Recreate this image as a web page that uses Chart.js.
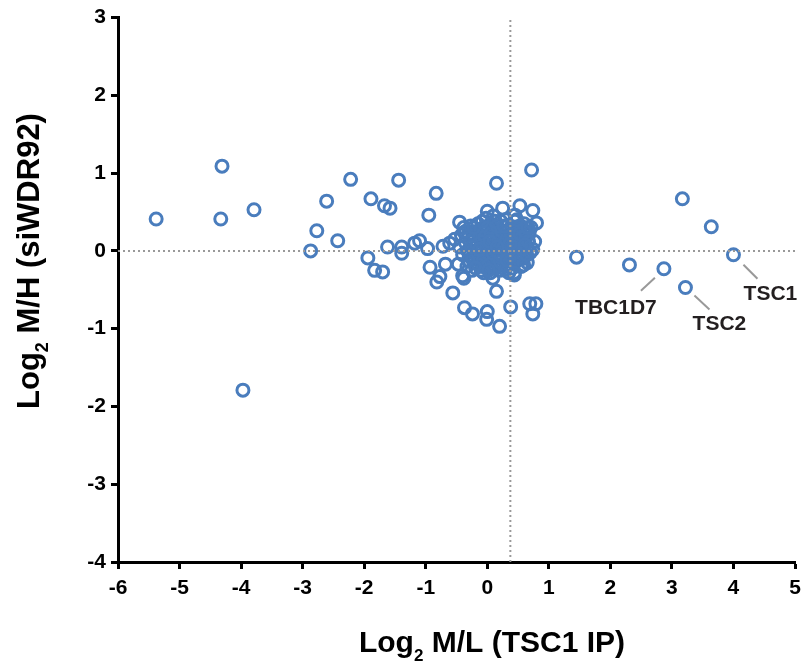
<!DOCTYPE html>
<html>
<head>
<meta charset="utf-8">
<script src="https://cdn.jsdelivr.net/npm/chart.js@4.4.1/dist/chart.umd.min.js"></script>
<style>
html,body{margin:0;padding:0;background:#fff;}
#wrap{width:804px;height:663px;}
</style>
</head>
<body>
<div id="wrap"><canvas id="c" width="804" height="663"></canvas></div>
<script>
// ---- data ----
const xValues = [
 -5.38,-4.31,-4.33,-3.79,-3.97,-2.61,-2.22,-2.77,-2.87,-2.43,
 -1.89,-1.67,-1.58,-1.44,-1.94,-1.83,-1.70,-1.62,-1.39,-1.39,
 -1.18,-1.10,-0.97,-0.93,-0.77,-0.82,-0.72,-0.61,-0.53,-0.68,
 -0.95,-0.83,-0.56,-0.47,-0.40,-0.38,-0.37,-0.24,0.00,-0.01,
 0.20,0.15,0.09,0.44,0.38,0.69,0.79,0.74,0.56,0.74,
 0.77,0.15,0.72,-0.45,0.00,0.25,0.53,0.74,0.80,0.45,
 1.45,2.31,2.87,3.17,3.64,4.00,3.22,
 -0.35,-0.30,-0.28,-0.25,-0.22,-0.20,-0.18,-0.15,-0.12,-0.10,
 -0.08,-0.06,-0.05,-0.03,0.00,0.02,0.04,0.05,0.07,0.08,
 0.10,0.12,0.13,0.15,0.17,0.18,0.20,0.22,0.24,0.25,
 0.28,0.30,0.32,0.33,0.35,0.38,0.40,0.42,0.45,0.47,
 0.50,0.52,0.55,0.58,0.60,0.62,0.65,0.68,0.70,-0.40,
 -0.42,-0.33,-0.27,-0.15,-0.02,0.10,0.30,0.45,0.60,0.35,
 0.20,0.05,-0.10,-0.25,0.55,0.65,-0.38,-0.45,0.00,0.12,
 -0.18,0.28,0.40,-0.05,0.18,0.08,0.48,
 -0.32,-0.28,-0.24,-0.21,-0.17,-0.14,-0.11,-0.09,-0.07,-0.04,
 -0.02,0.01,0.03,0.06,0.09,0.11,0.14,0.16,0.19,0.21,
 0.23,0.26,0.29,0.31,0.34,0.36,0.39,0.41,0.43,0.46,
 0.49,0.51,0.54,0.57,0.59,0.62,0.64,0.67,0.71,-0.36,
 -0.31,-0.26,-0.19,-0.13,-0.06,0.04,0.13,0.22,0.27,0.37,
 0.44,0.53,0.61,0.66,-0.08,0.02,0.32,0.16,-0.22,0.48
];
const yValues = [
 0.41,1.09,0.41,0.53,-1.79,0.64,0.92,0.26,0.00,0.13,
 0.67,0.58,0.55,0.91,-0.09,-0.25,-0.27,0.05,0.05,-0.03,
 0.10,0.13,0.03,-0.21,-0.33,-0.40,0.06,0.10,0.15,-0.17,
 0.46,0.74,-0.54,-0.17,-0.32,-0.35,-0.73,-0.81,-0.78,-0.88,
 -0.97,-0.52,-0.35,-0.31,-0.72,-0.68,-0.68,-0.81,-0.10,0.02,
 0.12,0.87,1.04,0.37,0.51,0.55,0.58,0.52,0.36,0.46,
 -0.08,-0.18,-0.23,0.67,0.31,-0.05,-0.47,
 0.10,0.22,-0.05,0.15,-0.15,0.05,0.25,-0.10,0.18,0.00,
 -0.20,0.30,0.10,-0.05,0.20,-0.12,0.05,0.35,-0.22,0.15,
 0.00,0.28,-0.08,0.10,-0.18,0.22,0.03,0.38,-0.10,0.15,
 -0.02,0.25,-0.20,0.08,0.18,-0.05,0.30,0.12,-0.15,0.05,
 0.20,-0.03,0.10,0.28,-0.08,0.15,0.05,0.22,-0.02,-0.05,
 0.20,-0.20,0.32,0.35,0.42,0.45,0.40,0.38,0.35,-0.28,
 -0.25,-0.28,-0.25,-0.25,-0.20,-0.15,0.30,0.05,-0.02,0.08,
 -0.02,0.10,0.00,0.25,-0.05,0.30,0.25,
 0.00,0.12,-0.10,0.20,0.08,-0.18,0.27,0.12,-0.12,0.18,
 0.02,0.30,-0.18,0.22,-0.03,0.16,-0.22,0.32,0.12,-0.14,
 0.26,0.04,-0.24,0.15,0.33,-0.12,0.20,-0.22,0.06,0.28,
 -0.10,0.14,0.32,0.02,-0.18,0.24,-0.05,0.12,0.30,0.25,
 -0.12,0.05,-0.22,0.02,-0.28,0.12,0.38,-0.05,0.32,0.09,
 -0.28,0.22,0.08,0.30,0.38,-0.25,-0.12,0.05,0.30,0.40
];
const labelNames = ['TBC1D7','TSC2','TSC1'];
const labelIndex = [62, 66, 65];
const refLineX = 0.375;
const refLineY = 0;
const xTickMin = -6, xTickMax = 5;
const yTickMin = -4, yTickMax = 3;

const points = xValues.map((x,i)=>({x:x, y:yValues[i]}));

// ---- plugins ----
const FONT = "'Liberation Sans', Arial, sans-serif";
const annotations = {
  id:'annotations',
  afterDatasetsDraw(chart){
    const ctx = chart.ctx, xs = chart.scales.x, ys = chart.scales.y;
    const offs = [
      {l1:[-9,9], l2:[-23,22], t:[-48,39]},
      {l1:[9,8], l2:[24,22], t:[34,37]},
      {l1:[10,10], l2:[24,24], t:[37,39]}
    ];
    ctx.save();
    labelIndex.forEach((idx,k)=>{
      const px = xs.getPixelForValue(xValues[idx]);
      const py = ys.getPixelForValue(yValues[idx]);
      const o = offs[k];
      ctx.strokeStyle = '#999';
      ctx.lineWidth = 2;
      ctx.beginPath();
      ctx.moveTo(px+o.l1[0], py+o.l1[1]);
      ctx.lineTo(px+o.l2[0], py+o.l2[1]);
      ctx.stroke();
      ctx.fillStyle = '#231f20';
      ctx.font = "bold 21px " + FONT;
      ctx.textAlign = 'center';
      ctx.textBaseline = 'middle';
      ctx.fillText(labelNames[k], px+o.t[0], py+o.t[1]);
    });
    ctx.restore();
  }
};

function drawSubTitle(ctx, parts, cx, baseY, size){
  const sub = Math.round(size*0.57);
  ctx.font = "bold "+size+"px " + FONT;
  const w1 = ctx.measureText(parts[0]).width;
  const w3 = ctx.measureText(parts[2]).width;
  ctx.font = "bold "+sub+"px " + FONT;
  const w2 = ctx.measureText(parts[1]).width;
  const total = w1 + w2 + w3;
  let x = cx - total/2;
  ctx.textAlign = 'left';
  ctx.textBaseline = 'alphabetic';
  ctx.font = "bold "+size+"px " + FONT;
  ctx.fillText(parts[0], x, baseY); x += w1;
  ctx.font = "bold "+sub+"px " + FONT;
  ctx.fillText(parts[1], x, baseY + size*0.3); x += w2;
  ctx.font = "bold "+size+"px " + FONT;
  ctx.fillText(parts[2], x, baseY);
}

const axisTitles = {
  id:'axisTitles',
  afterDraw(chart){
    const ctx = chart.ctx;
    ctx.save();
    ctx.fillStyle = '#000';
    drawSubTitle(ctx, ['Log','2',' M/L (TSC1 IP)'], 492, 652, 30);
    ctx.translate(39, 261);
    ctx.rotate(-Math.PI/2);
    drawSubTitle(ctx, ['Log','2',' M/H (siWDR92)'], 0, 0, 31);
    ctx.restore();
  }
};

const tickFont = {family: FONT, size: 21, weight: 'bold'};

new Chart(document.getElementById('c'), {
  type: 'scatter',
  data: {
    datasets: [
      {
        type:'line',
        data:[{x:xTickMin,y:refLineY},{x:xTickMax,y:refLineY}],
        borderColor:'#999', borderWidth:2, borderDash:[2,3],
        pointRadius:0, order:0
      },
      {
        type:'line',
        data:[{x:refLineX,y:yTickMin},{x:refLineX,y:yTickMax}],
        borderColor:'#999', borderWidth:2, borderDash:[2,3],
        pointRadius:0, order:0
      },
      {
        data: points,
        pointStyle:'circle',
        pointRadius:6,
        pointBorderWidth:3,
        pointBorderColor:'#4a7dbd',
        pointBackgroundColor:'rgba(0,0,0,0)',
        order:1
      }
    ]
  },
  options: {
    responsive:false,
    animation:false,
    devicePixelRatio:1,
    layout:{padding:{left:0, top:16, right:0, bottom:0}},
    plugins:{legend:{display:false}, tooltip:{enabled:false}},
    scales:{
      x:{
        type:'linear', min:xTickMin, max:xTickMax,
        ticks:{stepSize:1, color:'#000', font:tickFont, padding:7, maxRotation:0},
        grid:{drawOnChartArea:false, drawTicks:true, tickLength:7, tickColor:'#000', tickWidth:3},
        border:{color:'#000', width:3},
        afterFit(s){ s.height = 101; s.paddingRight = 8; s.paddingLeft = 0; }
      },
      y:{
        type:'linear', min:yTickMin, max:yTickMax,
        ticks:{stepSize:1, color:'#000', font:tickFont, padding:5},
        grid:{drawOnChartArea:false, drawTicks:true, tickLength:7, tickColor:'#000', tickWidth:3},
        border:{color:'#000', width:3},
        afterFit(s){ s.width = 118; }
      }
    }
  },
  plugins:[annotations, axisTitles]
});
</script>
</body>
</html>
